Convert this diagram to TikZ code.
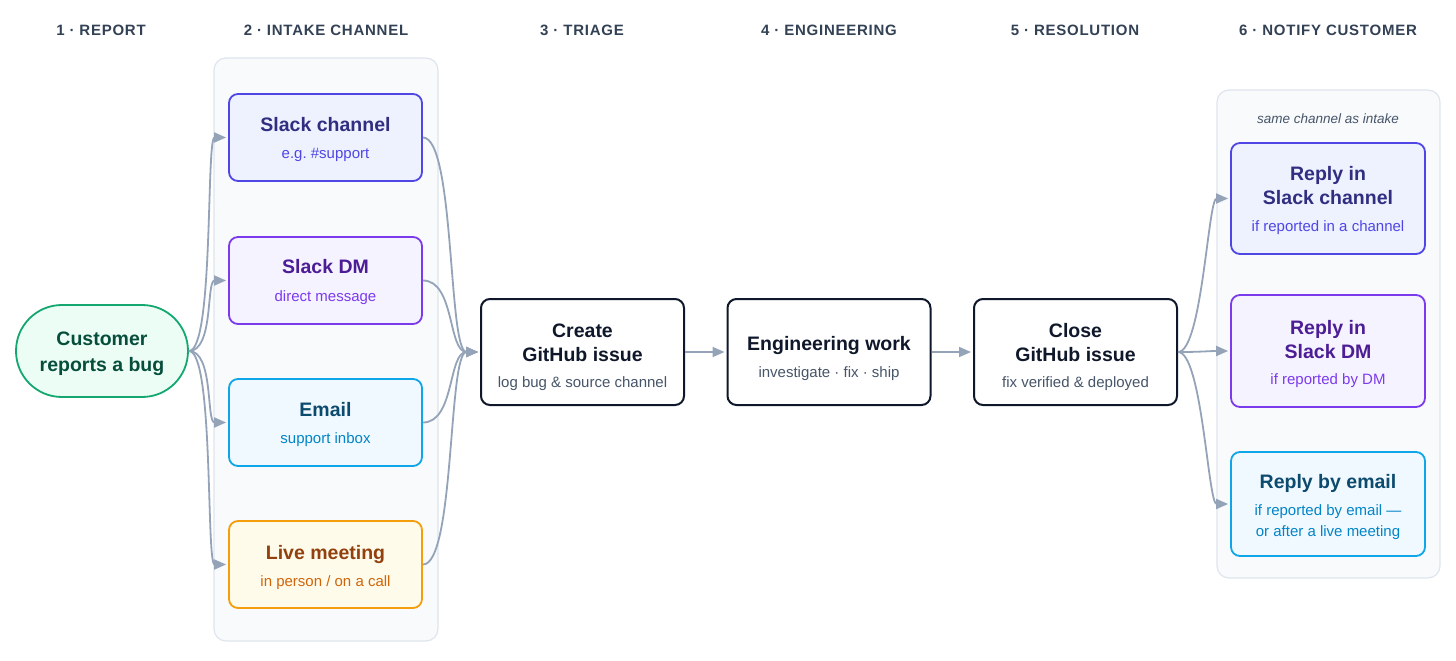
\documentclass[tikz,border=0pt]{standalone}
\usepackage{fontspec}
\setmainfont{Liberation Sans}
\newfontfamily\hdrfont[LetterSpace=5]{Liberation Sans}
\usetikzlibrary{arrows.meta}
\frenchspacing
\definecolor{slateA}{HTML}{334155}
\definecolor{slateB}{HTML}{475569}
\definecolor{slateC}{HTML}{0F172A}
\definecolor{conncol}{HTML}{94A3B8}
\definecolor{panelfill}{HTML}{F8FAFC}
\definecolor{paneldraw}{HTML}{DFE5EE}
\definecolor{grnfill}{HTML}{ECFDF5}
\definecolor{grndraw}{HTML}{14A870}
\definecolor{grntext}{HTML}{064E3B}
\definecolor{indfill}{HTML}{EEF2FF}
\definecolor{inddraw}{HTML}{4F46E5}
\definecolor{indtext}{HTML}{312E81}
\definecolor{vilfill}{HTML}{F5F3FF}
\definecolor{vildraw}{HTML}{7C3AED}
\definecolor{viltext}{HTML}{4C1D95}
\definecolor{skyfill}{HTML}{F0F9FF}
\definecolor{skydraw}{HTML}{0EA5E9}
\definecolor{skytext}{HTML}{0C4A6E}
\definecolor{skysub}{HTML}{0284C7}
\definecolor{ambfill}{HTML}{FFFBEB}
\definecolor{ambdraw}{HTML}{F59E0B}
\definecolor{ambtext}{HTML}{92400E}
\definecolor{ambsub}{HTML}{D0650A}
\tikzset{
  hdr/.style={font=\hdrfont\bfseries\fontsize{15}{17}\selectfont, text=slateA, anchor=base, inner sep=0pt},
  panel/.style={draw=paneldraw, fill=panelfill, line width=1.2pt, rounded corners=12pt},
  chanbox/.style={rounded corners=9pt, line width=1.8pt, minimum width=193pt, minimum height=87pt, inner sep=0pt},
  stepbox/.style={draw=slateC, fill=white, rounded corners=9pt, line width=2pt, minimum width=203pt, minimum height=106pt, inner sep=0pt},
  ttl/.style={font=\bfseries\fontsize{19.5}{22}\selectfont, anchor=base, inner sep=0pt},
  sub/.style={font=\fontsize{15}{17}\selectfont, anchor=base, inner sep=0pt},
  conn/.style={draw=conncol, line width=1.8pt, -{Triangle[length=12pt,width=10pt]}, shorten >=2pt}
}
\begin{document}
\begin{tikzpicture}[x=1pt,y=-1pt]
\useasboundingbox (0,0) rectangle (1456,661);
% headers
\node[hdr] (h1) at (101,35.5) {1 · REPORT};
\node[hdr] (h2) at (326,35.5) {2 · INTAKE CHANNEL};
\node[hdr] (h3) at (582,35.5) {3 · TRIAGE};
\node[hdr] (h4) at (829,35.5) {4 · ENGINEERING};
\node[hdr] (h5) at (1075,35.5) {5 · RESOLUTION};
\node[hdr] (h6) at (1328,35.5) {6 · NOTIFY CUSTOMER};
% panels
\node[panel, minimum width=224pt, minimum height=583pt] (pin) at (326,349.5) {};
\node[panel, minimum width=223pt, minimum height=488pt] (pout) at (1328.5,334) {};
\node[font=\itshape\fontsize{13.5}{15}\selectfont, text=slateB, anchor=base, inner sep=0pt] (pnote) at (1328,123) {same channel as intake};
% customer
\node[draw=grndraw, fill=grnfill, line width=1.8pt, rounded corners=45.9pt, minimum width=172pt, minimum height=92pt, inner sep=0pt] (cust) at (102,351) {};
\node[ttl, text=grntext] (cust-a) at (102,345) {Customer};
\node[ttl, text=grntext] (cust-b) at (102,371) {reports a bug};
% intake boxes
\node[chanbox, draw=inddraw, fill=indfill] (sc) at (325.5,137.5) {};
\node[ttl, text=indtext] (sc-t) at (325.5,131) {Slack channel};
\node[sub, text=inddraw] (sc-s) at (325.5,158.5) {e.g. \#support};
\node[chanbox, draw=vildraw, fill=vilfill] (dm) at (325.5,280.5) {};
\node[ttl, text=viltext] (dm-t) at (325.5,273) {Slack DM};
\node[sub, text=vildraw] (dm-s) at (325.5,301.5) {direct message};
\node[chanbox, draw=skydraw, fill=skyfill] (em) at (325.5,422.5) {};
\node[ttl, text=skytext] (em-t) at (325.5,416) {Email};
\node[sub, text=skysub] (em-s) at (325.5,443.5) {support inbox};
\node[chanbox, draw=ambdraw, fill=ambfill] (lm) at (325.5,564.5) {};
\node[ttl, text=ambtext] (lm-t) at (325.5,559) {Live meeting};
\node[sub, text=ambsub] (lm-s) at (325.5,586.5) {in person / on a call};
% steps
\node[stepbox] (gh) at (582.5,352) {};
\node[ttl, text=slateC] (gh-a) at (582.5,337) {Create};
\node[ttl, text=slateC] (gh-b) at (582.5,361) {GitHub issue};
\node[sub, text=slateB] (gh-s) at (582.5,387.5) {log bug \& source channel};
\node[stepbox] (eng) at (829,352) {};
\node[ttl, text=slateC] (eng-a) at (829,350) {Engineering work};
\node[sub, text=slateB] (eng-s) at (829,377.5) {investigate · fix · ship};
\node[stepbox] (cl) at (1075.5,352) {};
\node[ttl, text=slateC] (cl-a) at (1075.5,337) {Close};
\node[ttl, text=slateC] (cl-b) at (1075.5,361) {GitHub issue};
\node[sub, text=slateB] (cl-s) at (1075.5,387.5) {fix verified \& deployed};
% replies
\node[chanbox, draw=inddraw, fill=indfill, minimum width=194pt, minimum height=111pt] (rsc) at (1328,198.5) {};
\node[ttl, text=indtext] (rsc-a) at (1328,180) {Reply in};
\node[ttl, text=indtext] (rsc-b) at (1328,204) {Slack channel};
\node[sub, text=inddraw] (rsc-s) at (1328,231.5) {if reported in a channel};
\node[chanbox, draw=vildraw, fill=vilfill, minimum width=194pt, minimum height=112pt] (rdm) at (1328,351) {};
\node[ttl, text=viltext] (rdm-a) at (1328,334) {Reply in};
\node[ttl, text=viltext] (rdm-b) at (1328,358) {Slack DM};
\node[sub, text=vildraw] (rdm-s) at (1328,384.5) {if reported by DM};
\node[chanbox, draw=skydraw, fill=skyfill, minimum width=194pt, minimum height=104pt] (rem) at (1328,504) {};
\node[ttl, text=skytext] (rem-a) at (1328,488) {Reply by email};
\node[sub, text=skysub] (rem-s) at (1328,515.5) {if reported by email —};
\node[sub, text=skysub] (rem-t) at (1328,536.5) {or after a live meeting};
% connectors
\foreach \t in {sc,dm,em,lm}{
  \draw[conn] (cust.east) .. controls +(25,0) and +(-22,0) .. (\t.west);
  \draw[conn] (\t.east) .. controls +(32,0) and +(-32,0) .. (gh.west);
}
\draw[conn] (gh.east) -- (eng.west);
\draw[conn] (eng.east) -- (cl.west);
\foreach \t in {rsc,rdm,rem}{
  \draw[conn] (cl.east) .. controls +(24,0) and +(-22,0) .. (\t.west);
}
\end{tikzpicture}
\end{document}
